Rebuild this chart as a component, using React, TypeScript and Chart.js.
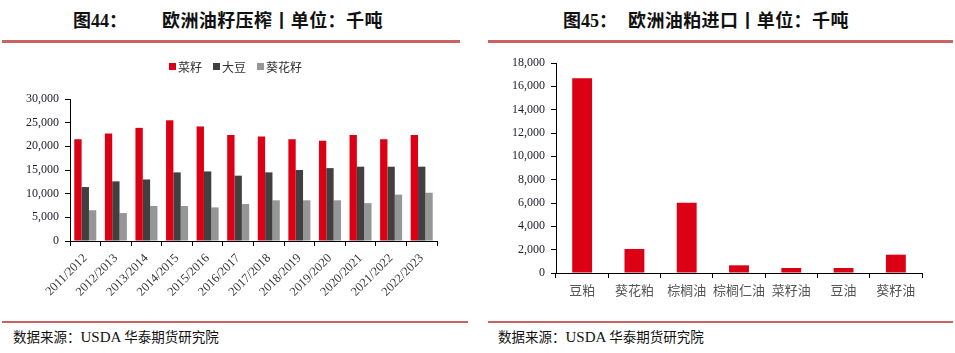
import React, { useEffect, useRef } from "react";
import { Chart, registerables } from "chart.js";

Chart.register(...registerables);

// ---- Data: 欧洲油籽压榨 (千吨)
const seasons = [
  "2011/2012", "2012/2013", "2013/2014", "2014/2015", "2015/2016", "2016/2017",
  "2017/2018", "2018/2019", "2019/2020", "2020/2021", "2021/2022", "2022/2023",
];
const rapeseed = [21500, 22700, 23900, 25500, 24200, 22400, 22100, 21500, 21200, 22400, 21500, 22400];
const soybean = [11400, 12600, 13000, 14500, 14700, 13800, 14500, 15000, 15400, 15700, 15700, 15700];
const sunflower = [6500, 5900, 7400, 7400, 7100, 7800, 8600, 8600, 8600, 8000, 9800, 10200];
const crushSeries = ["菜籽", "大豆", "葵花籽"];
const crushTicks = [0, 5000, 10000, 15000, 20000, 25000, 30000];

// ---- Data: 欧洲油粕进口 (千吨)
const importItems = ["豆粕", "葵花粕", "棕榈油", "棕榈仁油", "菜籽油", "豆油", "葵籽油"];
const importValues = [16700, 2060, 6030, 660, 430, 430, 1570];
const importTicks = [0, 2000, 4000, 6000, 8000, 10000, 12000, 14000, 16000, 18000];

const RED = "#DC0014";
const DARK = "#404040";
const GRAY = "#969696";
const SERIES_COLORS = [RED, DARK, GRAY];
const RULE = "#C96362";
const SERIF = "'Liberation Serif', 'Times New Roman', serif";
const CJK = "'Noto Sans CJK SC', 'Noto Sans', sans-serif";

const fmt = (v: any) => Number(v).toLocaleString("en-US");

function CrushChart() {
  const ref = useRef<HTMLCanvasElement | null>(null);
  useEffect(() => {
    if (!ref.current) return;
    const chart = new Chart(ref.current, {
      type: "bar",
      data: {
        labels: seasons,
        datasets: [
          { label: crushSeries[0], data: rapeseed, backgroundColor: SERIES_COLORS[0] },
          { label: crushSeries[1], data: soybean, backgroundColor: SERIES_COLORS[1] },
          { label: crushSeries[2], data: sunflower, backgroundColor: SERIES_COLORS[2] },
        ],
      },
      options: {
        animation: false,
        responsive: false,
        maintainAspectRatio: false,
        devicePixelRatio: 1,
        layout: { padding: { left: 0, right: 38, top: 0, bottom: 0 } },
        datasets: { bar: { categoryPercentage: 0.72, barPercentage: 1 } },
        plugins: { legend: { display: false }, tooltip: { enabled: false } },
        scales: {
          x: {
            grid: { drawOnChartArea: false, drawTicks: true, tickLength: 5, color: "#000", offset: true },
            border: { color: "#000", width: 1 },
            ticks: {
              autoSkip: false,
              maxRotation: 45,
              minRotation: 45,
              padding: 5,
              color: "#333",
              font: { family: SERIF, size: 12.5 },
            },
            afterFit(s: any) {
              s.height = 60;
            },
          },
          y: {
            min: 0,
            max: 30000,
            afterBuildTicks(s: any) {
              s.ticks = crushTicks.map((v) => ({ value: v }));
            },
            ticks: {
              padding: 6,
              color: "#1a1a2a",
              font: { family: SERIF, size: 12 },
              callback: (v: any) => fmt(v),
            },
            grid: { drawOnChartArea: false, drawTicks: true, tickLength: 5, color: "#000" },
            border: { color: "#000", width: 1 },
            afterFit(s: any) {
              s.width = 70;
              s.paddingTop = 54;
              s.paddingBottom = 0;
            },
          },
        },
      },
    } as any);
    return () => chart.destroy();
  }, []);
  return (
    <canvas
      ref={ref}
      width={475}
      height={256}
      style={{ position: "absolute", left: 0, top: 45, width: 475, height: 256 }}
    />
  );
}

function CrushLegend() {
  const lefts = [169, 213, 257];
  return (
    <>
      {crushSeries.map((name, i) => (
        <div
          key={name}
          style={{
            position: "absolute",
            left: lefts[i],
            top: 58,
            height: 16,
            display: "flex",
            alignItems: "center",
            whiteSpace: "nowrap",
            fontFamily: CJK,
            fontSize: 12,
            color: "#333",
          }}
        >
          <span style={{ display: "inline-block", width: 7, height: 7, background: SERIES_COLORS[i], marginRight: 2 }} />
          {name}
        </div>
      ))}
    </>
  );
}

function ImportChart() {
  const ref = useRef<HTMLCanvasElement | null>(null);
  useEffect(() => {
    if (!ref.current) return;
    const chart = new Chart(ref.current, {
      type: "bar",
      data: {
        labels: importItems,
        datasets: [{ label: "进口", data: importValues, backgroundColor: RED }],
      },
      options: {
        animation: false,
        responsive: false,
        maintainAspectRatio: false,
        devicePixelRatio: 1,
        layout: { padding: { left: 0, right: 33, top: 0, bottom: 0 } },
        datasets: { bar: { categoryPercentage: 1, barPercentage: 0.38 } },
        plugins: { legend: { display: false }, tooltip: { enabled: false } },
        scales: {
          x: {
            grid: { drawOnChartArea: false, drawTicks: true, tickLength: 5, color: "#000", offset: true },
            border: { color: "#000", width: 1 },
            ticks: {
              autoSkip: false,
              maxRotation: 0,
              minRotation: 0,
              padding: 4,
              color: "#555",
              font: { family: CJK, size: 13 },
            },
            afterFit(s: any) {
              s.height = 30;
            },
          },
          y: {
            min: 0,
            max: 18000,
            afterBuildTicks(s: any) {
              s.ticks = importTicks.map((v) => ({ value: v }));
            },
            ticks: {
              padding: 6,
              color: "#1a1a2a",
              font: { family: SERIF, size: 12 },
              callback: (v: any) => fmt(v),
            },
            grid: { drawOnChartArea: false, drawTicks: true, tickLength: 5, color: "#000" },
            border: { color: "#000", width: 1 },
            afterFit(s: any) {
              s.width = 68;
              s.paddingTop = 8;
              s.paddingBottom = 0;
            },
          },
        },
      },
    } as any);
    return () => chart.destroy();
  }, []);
  return (
    <canvas
      ref={ref}
      width={467}
      height={248}
      style={{ position: "absolute", left: 488, top: 55, width: 467, height: 248 }}
    />
  );
}

const abs = (o: React.CSSProperties): React.CSSProperties => ({ position: "absolute", whiteSpace: "nowrap", ...o });

function Title({ x, num, text, x2 }: { x: number; num: string; text: string; x2: number }) {
  return (
    <>
      <div style={abs({ left: x, top: 8, height: 22, lineHeight: "22px", fontSize: 18, fontWeight: 700, fontFamily: CJK, color: "#111" })}>
        图<span style={{ fontFamily: SERIF, fontWeight: 700 }}>{num}</span>：
      </div>
      <div style={abs({ left: x2, top: 8, height: 22, lineHeight: "22px", fontSize: 18, fontWeight: 700, fontFamily: CJK, color: "#111", letterSpacing: 0.4 })}>
        {text}
      </div>
    </>
  );
}

function Source({ x }: { x: number }) {
  return (
    <div style={abs({ left: x, top: 327, height: 18, lineHeight: "18px", fontSize: 13.5, fontFamily: CJK, color: "#111" })}>
      数据来源：<span style={{ fontFamily: SERIF, fontSize: 15 }}>USDA</span> 华泰期货研究院
    </div>
  );
}

export default function App() {
  return (
    <div style={{ position: "absolute", left: 0, top: 0, width: 955, height: 353, background: "#fff", overflow: "hidden" }}>
      <Title x={73} num="44" text="欧洲油籽压榨丨单位：千吨" x2={162} />
      <Title x={563} num="45" text="欧洲油粕进口丨单位：千吨" x2={628} />
      <div style={abs({ left: 2, top: 40, width: 458, height: 3, background: RULE })} />
      <div style={abs({ left: 488, top: 40, width: 465, height: 3, background: RULE })} />
      <CrushChart />
      <CrushLegend />
      <ImportChart />
      <div style={abs({ left: 2, top: 321, width: 466, height: 2, background: RULE })} />
      <div style={abs({ left: 488, top: 321, width: 465, height: 2, background: RULE })} />
      <Source x={13} />
      <Source x={498} />
    </div>
  );
}
